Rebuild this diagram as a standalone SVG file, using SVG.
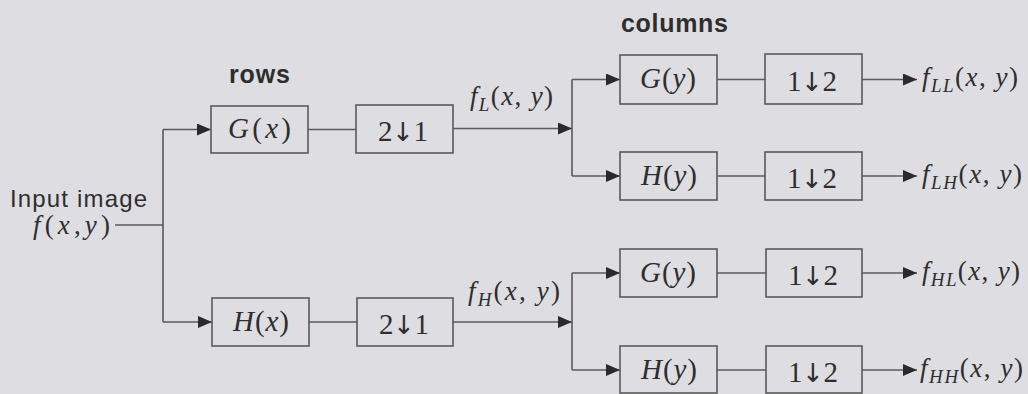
<svg xmlns="http://www.w3.org/2000/svg" width="1028" height="394" viewBox="0 0 1028 394">
<style>
.bg{fill:#dedde2}
.box{fill:none;stroke:#5a5a5a;stroke-width:1.6}
.ln{fill:none;stroke:#5a5a5a;stroke-width:1.6}
.m{font-family:"Liberation Serif","Times New Roman",serif;font-size:27px;fill:#2e2e2e}
.bx{font-size:29px}
.i{font-style:italic}
.s{font-size:19px;font-style:italic}
.ar{font-family:"DejaVu Sans",sans-serif;font-size:26px}
.h{font-family:"Liberation Sans",Arial,sans-serif;font-size:24px;fill:#2e2e2e}
.b{font-weight:bold;font-size:25px}
</style>
<defs>
<marker id="ar" markerWidth="14" markerHeight="12" refX="14" refY="6" orient="auto" markerUnits="userSpaceOnUse">
<path d="M0,0 L14,6 L0,12 Z" fill="#2a2a2a"/>
</marker>
</defs>
<rect class="bg" x="0" y="0" width="1028" height="394"/>

<g id="connectors">
<path class="ln" d="M115,225 H163"/>
<path class="ln" d="M163,129.5 V322"/>
<path class="ln" d="M163,129.5 H211" marker-end="url(#ar)"/>
<path class="ln" d="M163,322 H212" marker-end="url(#ar)"/>
<path class="ln" d="M308,129.5 H356"/>
<path class="ln" d="M309,322 H357"/>
<path class="ln" d="M453,128.5 H572" marker-end="url(#ar)"/>
<path class="ln" d="M453,322 H572" marker-end="url(#ar)"/>
<path class="ln" d="M572,79.5 V176"/>
<path class="ln" d="M572,79.5 H620" marker-end="url(#ar)"/>
<path class="ln" d="M572,176 H620" marker-end="url(#ar)"/>
<path class="ln" d="M572,273 V370"/>
<path class="ln" d="M572,273 H620" marker-end="url(#ar)"/>
<path class="ln" d="M572,370 H620" marker-end="url(#ar)"/>
<path class="ln" d="M717,79.5 H765"/>
<path class="ln" d="M717,176 H765"/>
<path class="ln" d="M717,273 H766"/>
<path class="ln" d="M717,370 H766"/>
<path class="ln" d="M862,79.5 H917" marker-end="url(#ar)"/>
<path class="ln" d="M862,176 H917" marker-end="url(#ar)"/>
<path class="ln" d="M862,273 H917" marker-end="url(#ar)"/>
<path class="ln" d="M862,370 H917" marker-end="url(#ar)"/>
</g>

<g id="labels">
<text class="h b" x="229" y="83" textLength="61" lengthAdjust="spacing">rows</text>
<text class="h b" x="621" y="32" textLength="107" lengthAdjust="spacing">columns</text>
<text class="h" x="10" y="207" textLength="137" lengthAdjust="spacing">Input image</text>
<text class="m" x="33" y="234" font-size="28" textLength="77" lengthAdjust="spacing"><tspan class="i">f</tspan>(<tspan class="i">x</tspan>,<tspan class="i">y</tspan>)</text>
<text class="m" x="470" y="105" textLength="83" lengthAdjust="spacing"><tspan class="i">f</tspan><tspan class="s" dy="6">L</tspan><tspan dy="-6">(</tspan><tspan class="i">x</tspan>, <tspan class="i">y</tspan>)</text>
<text class="m" x="468" y="300" textLength="92" lengthAdjust="spacing"><tspan class="i">f</tspan><tspan class="s" dy="6">H</tspan><tspan dy="-6">(</tspan><tspan class="i">x</tspan>, <tspan class="i">y</tspan>)</text>
<text class="m" x="922" y="86" textLength="96" lengthAdjust="spacing"><tspan class="i">f</tspan><tspan class="s" dy="6">LL</tspan><tspan dy="-6">(</tspan><tspan class="i">x</tspan>, <tspan class="i">y</tspan>)</text>
<text class="m" x="922" y="183" textLength="100" lengthAdjust="spacing"><tspan class="i">f</tspan><tspan class="s" dy="6">LH</tspan><tspan dy="-6">(</tspan><tspan class="i">x</tspan>, <tspan class="i">y</tspan>)</text>
<text class="m" x="922" y="280" textLength="98" lengthAdjust="spacing"><tspan class="i">f</tspan><tspan class="s" dy="6">HL</tspan><tspan dy="-6">(</tspan><tspan class="i">x</tspan>, <tspan class="i">y</tspan>)</text>
<text class="m" x="920" y="377" textLength="103" lengthAdjust="spacing"><tspan class="i">f</tspan><tspan class="s" dy="6">HH</tspan><tspan dy="-6">(</tspan><tspan class="i">x</tspan>, <tspan class="i">y</tspan>)</text>
</g>

<g id="Gx"><rect class="box" x="211" y="106" width="97" height="47"/><text class="m bx" x="228" y="138" textLength="63" lengthAdjust="spacing"><tspan class="i">G</tspan>(<tspan class="i">x</tspan>)</text></g>
<g id="Hx"><rect class="box" x="212" y="298" width="97" height="48"/><text class="m bx" x="233" y="331" textLength="56" lengthAdjust="spacing"><tspan class="i">H</tspan>(<tspan class="i">x</tspan>)</text></g>
<g id="dsL"><rect class="box" x="356" y="105" width="97" height="48"/><text class="m bx" x="378" y="141" textLength="50" lengthAdjust="spacing">2<tspan class="ar">↓</tspan>1</text></g>
<g id="dsH"><rect class="box" x="357" y="298" width="96" height="48"/><text class="m bx" x="379" y="334" textLength="50" lengthAdjust="spacing">2<tspan class="ar">↓</tspan>1</text></g>
<g id="GyL"><rect class="box" x="620" y="55" width="97" height="49"/><text class="m bx" x="640" y="88" textLength="56" lengthAdjust="spacing"><tspan class="i">G</tspan>(<tspan class="i">y</tspan>)</text></g>
<g id="HyL"><rect class="box" x="620" y="152" width="97" height="48"/><text class="m bx" x="641" y="185" textLength="56" lengthAdjust="spacing"><tspan class="i">H</tspan>(<tspan class="i">y</tspan>)</text></g>
<g id="GyH"><rect class="box" x="620" y="249" width="97" height="48"/><text class="m bx" x="640" y="282" textLength="56" lengthAdjust="spacing"><tspan class="i">G</tspan>(<tspan class="i">y</tspan>)</text></g>
<g id="HyH"><rect class="box" x="620" y="346" width="97" height="47"/><text class="m bx" x="641" y="379" textLength="56" lengthAdjust="spacing"><tspan class="i">H</tspan>(<tspan class="i">y</tspan>)</text></g>
<g id="dsLL"><rect class="box" x="765" y="54" width="97" height="50"/><text class="m bx" x="787" y="91" textLength="50" lengthAdjust="spacing">1<tspan class="ar">↓</tspan>2</text></g>
<g id="dsLH"><rect class="box" x="765" y="152" width="97" height="48"/><text class="m bx" x="787" y="188" textLength="50" lengthAdjust="spacing">1<tspan class="ar">↓</tspan>2</text></g>
<g id="dsHL"><rect class="box" x="766" y="249" width="96" height="48"/><text class="m bx" x="788" y="285" textLength="50" lengthAdjust="spacing">1<tspan class="ar">↓</tspan>2</text></g>
<g id="dsHH"><rect class="box" x="766" y="346" width="96" height="47"/><text class="m bx" x="788" y="382" textLength="50" lengthAdjust="spacing">1<tspan class="ar">↓</tspan>2</text></g>
</svg>
